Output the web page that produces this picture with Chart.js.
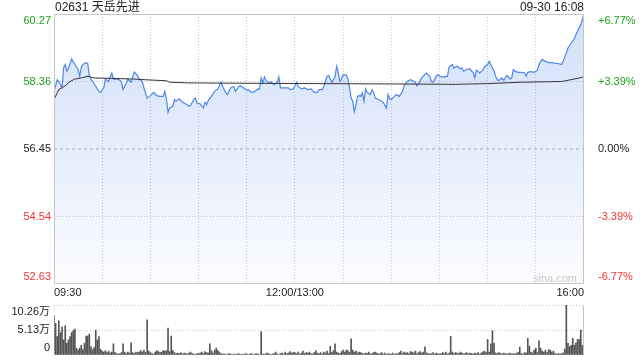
<!DOCTYPE html>
<html>
<head>
<meta charset="utf-8">
<title>02631 天岳先进</title>
<script src="https://cdn.jsdelivr.net/npm/chart.js@4.4.1/dist/chart.umd.min.js"></script>
<style>
    body { margin: 0; background: #fff; }
    #wrap { position: relative; width: 640px; height: 360px; overflow: hidden; font-family: "Liberation Sans", "Noto Sans CJK SC", sans-serif; color: #222; }
    #priceChart { position: absolute; left: 0; top: 0; }
    #volChart { position: absolute; left: 0; top: 295px; }
    #title { position: absolute; left: 55px; top: 0; font-size: 12px; line-height: 15px; }
    #stamp { position: absolute; right: 56px; top: 0; font-size: 12px; line-height: 15px; }
    #mark { position: absolute; left: 533px; top: 272px; font-size: 11px; line-height: 13px; color: #c8c8c8; }
</style>
</head>
<body>
<div id="wrap">
    <canvas id="priceChart" width="640" height="300"></canvas>
    <canvas id="volChart" width="640" height="65"></canvas>
    <div id="title">02631 天岳先进</div>
    <div id="stamp">09-30 16:08</div>
    <div id="mark">sina.com</div>
</div>
<script>
// x axis = trading minutes after 09:30 (lunch break squeezed out)
const timeLabelMinutes = [0, 150, 330];
const timeLabels = ["09:30", "12:00/13:00", "16:00"];
const gridMinutes = [0, 30, 60, 90, 120, 150, 180, 210, 240, 270, 300, 330];

const prevClose = 56.45;
const priceTicks = [52.63, 54.54, 56.45, 58.36, 60.27];
const priceTickLabels = ["52.63", "54.54", "56.45", "58.36", "60.27"];
const pctTickLabels = ["-6.77%", "-3.39%", "0.00%", "+3.39%", "+6.77%"];

const priceMinutes = [
    0, 2, 3, 5, 6, 7, 8, 9, 11, 13,
    15, 16, 17, 18, 20, 21, 22, 24, 26, 28,
    29, 31, 32, 34, 36, 37, 40, 42, 43, 45,
    46, 48, 49, 50, 52, 53, 55, 56, 58, 60,
    62, 64, 66, 68, 69, 70, 71, 72, 74, 75,
    76, 78, 80, 83, 84, 85, 87, 88, 89, 91,
    93, 94, 95, 96, 98, 100, 102, 104, 105, 107,
    108, 110, 112, 113, 115, 116, 118, 120, 121, 123,
    125, 127, 128, 129, 130, 131, 132, 134, 135, 137,
    139, 140, 141, 146, 147, 149, 151, 152, 154, 156,
    158, 160, 162, 164, 165, 167, 168, 170, 171, 172,
    173, 175, 176, 177, 178, 179, 180, 182, 183, 184,
    185, 186, 187, 188, 189, 190, 191, 192, 193, 194,
    195, 197, 198, 199, 200, 202, 204, 205, 207, 208,
    209, 210, 212, 213, 215, 217, 218, 220, 222, 223,
    225, 226, 227, 229, 231, 232, 234, 235, 236, 238,
    239, 241, 243, 245, 246, 248, 249, 251, 253, 254,
    255, 257, 259, 260, 261, 262, 263, 264, 265, 267,
    268, 270, 271, 272, 274, 275, 276, 277, 279, 280,
    281, 282, 284, 285, 286, 287, 289, 291, 293, 294,
    295, 297, 299, 301, 302, 303, 304, 306, 307, 309,
    310, 312, 314, 316, 317, 319, 320, 322, 324, 325,
    327, 328, 329, 330
];
const prices = [
    58.08, 58.41, 58.36, 58.19, 58.75, 58.84, 58.65, 58.74, 59.00, 58.84,
    58.70, 58.51, 58.77, 58.84, 58.89, 58.87, 58.51, 58.36, 58.22, 58.08,
    58.05, 58.18, 58.43, 58.36, 58.60, 58.43, 58.43, 58.36, 58.13, 58.32,
    58.43, 58.34, 58.49, 58.63, 58.53, 58.43, 58.36, 58.18, 57.89, 57.96,
    58.05, 57.96, 57.94, 57.94, 58.08, 57.87, 57.49, 57.61, 57.66, 57.85,
    57.80, 57.87, 57.77, 57.70, 57.66, 57.68, 57.85, 57.89, 57.75, 57.73,
    57.61, 57.77, 57.70, 57.82, 57.94, 58.08, 58.15, 58.34, 58.22, 58.04,
    57.99, 58.18, 58.22, 58.08, 58.22, 58.24, 58.18, 58.11, 58.13, 58.05,
    58.08, 58.15, 58.15, 58.46, 58.32, 58.49, 58.39, 58.32, 58.36, 58.27,
    58.34, 58.49, 58.18, 58.18, 58.13, 58.15, 58.34, 58.22, 58.15, 58.18,
    58.13, 58.15, 58.05, 58.05, 58.13, 58.13, 58.22, 58.51, 58.53, 58.43,
    58.34, 58.49, 58.79, 58.60, 58.36, 58.43, 58.55, 58.55, 58.43, 58.18,
    57.89, 57.80, 57.51, 57.70, 57.94, 57.96, 57.94, 58.04, 57.80, 58.15,
    58.05, 57.99, 58.13, 58.05, 57.89, 57.85, 57.80, 57.77, 57.61, 57.99,
    57.87, 57.85, 57.94, 57.99, 57.94, 58.08, 58.24, 58.36, 58.41, 58.39,
    58.34, 58.24, 58.30, 58.46, 58.57, 58.60, 58.51, 58.36, 58.34, 58.51,
    58.55, 58.49, 58.49, 58.51, 58.77, 58.84, 58.74, 58.79, 58.72, 58.74,
    58.65, 58.70, 58.72, 58.65, 58.62, 58.46, 58.68, 58.65, 58.60, 58.68,
    58.77, 58.84, 58.93, 58.84, 58.65, 58.51, 58.41, 58.39, 58.46, 58.39,
    58.46, 58.53, 58.43, 58.46, 58.70, 58.65, 58.62, 58.62, 58.60, 58.51,
    58.62, 58.64, 58.62, 58.68, 58.84, 58.93, 58.98, 58.93, 58.91, 58.89,
    58.90, 58.87, 58.87, 58.84, 58.93, 59.17, 59.31, 59.45, 59.57, 59.69,
    59.88, 59.97, 60.11, 60.25
];

// average price line
const avgMinutes = [0, 3, 7, 10, 13, 17, 21, 25, 35, 49, 57, 70, 72, 84, 122, 165, 215, 250, 270, 291, 316, 324, 330];
const avgPrices = [57.85, 58.13, 58.24, 58.36, 58.43, 58.46, 58.51, 58.46, 58.45, 58.43, 58.41, 58.38, 58.34, 58.32, 58.31, 58.30, 58.29, 58.28, 58.30, 58.34, 58.36, 58.43, 58.49];

const volTicks = [0, 5.13, 10.26];
const volTickLabels = ["0", "5.13万", "10.26万"];
// volume per minute, unit: 万
const volumes = [
    8.0, 6.5, 3.8, 7.0, 4.6, 5.8, 3.1, 6.0, 2.4, 3.1,
    3.8, 4.6, 5.0, 5.3, 1.4, 1.0, 1.4, 2.0, 1.1, 2.4,
    3.9, 3.9, 4.3, 1.7, 1.1, 1.5, 5.1, 3.1, 3.8, 1.2,
    0.8, 0.6, 0.9, 0.5, 0.8, 0.4, 0.6, 2.3, 0.5, 0.3,
    0.2, 0.3, 0.5, 2.3, 0.6, 0.3, 0.6, 0.4, 2.5, 0.5,
    0.3, 0.6, 0.5, 0.6, 0.9, 0.6, 1.0, 0.5, 7.2, 0.8,
    0.5, 0.3, 0.2, 0.6, 0.9, 0.7, 0.5, 0.6, 0.9, 0.8,
    0.9, 5.5, 0.7, 3.9, 0.9, 0.5, 0.3, 0.4, 0.3, 0.5,
    0.2, 0.4, 0.3, 0.2, 0.4, 0.6, 0.3, 0.2, 0.1, 0.3,
    0.3, 0.4, 0.6, 0.3, 0.7, 0.5, 0.4, 2.3, 0.9, 0.4,
    1.0, 1.4, 0.9, 0.6, 0.3, 0.2, 0.2, 0.1, 0.2, 0.3,
    0.2, 0.1, 0.2, 0.1, 0.2, 0.3, 0.1, 0.2, 0.1, 0.3,
    0.2, 0.1, 0.2, 0.3, 0.1, 0.2, 0.3, 0.2, 0.1, 4.8,
    0.2, 0.1, 0.3, 0.4, 0.2, 0.1, 0.2, 0.3, 0.6, 0.2,
    0.1, 0.3, 0.4, 0.2, 0.6, 0.3, 0.4, 0.7, 0.4, 0.5,
    0.5, 0.3, 0.6, 0.2, 0.4, 0.8, 0.3, 0.5, 0.4, 0.6,
    0.3, 0.2, 0.5, 0.9, 0.4, 0.3, 0.5, 0.2, 0.6, 0.4,
    0.8, 0.3, 1.8, 0.5, 0.9, 2.3, 0.6, 0.4, 0.3, 0.7,
    1.0, 0.6, 1.0, 0.9, 0.5, 3.3, 1.0, 0.6, 0.8, 0.4,
    0.6, 0.5, 0.3, 0.2, 0.4, 0.3, 0.6, 0.2, 0.3, 0.5,
    0.6, 0.4, 0.2, 0.3, 0.5, 0.2, 0.4, 0.1, 0.3, 0.2,
    0.2, 0.4, 0.1, 0.3, 0.2, 0.5, 0.8, 0.3, 0.6, 0.4,
    0.5, 0.3, 0.7, 0.6, 0.4, 0.8, 0.3, 0.5, 0.7, 0.4,
    0.6, 1.7, 0.4, 0.3, 0.2, 0.3, 0.5, 0.2, 0.4, 0.3,
    0.2, 0.3, 0.5, 0.3, 0.6, 0.2, 0.4, 3.8, 0.6, 0.3,
    0.5, 0.4, 0.3, 0.6, 0.4, 0.2, 0.3, 0.5, 0.2, 0.4,
    0.3, 0.2, 0.4, 0.3, 0.5, 0.2, 0.4, 0.6, 0.8, 0.5,
    3.2, 0.6, 2.3, 5.0, 2.4, 0.4, 0.3, 0.5, 0.3, 0.2,
    0.4, 0.3, 0.2, 0.3, 0.4, 0.2, 0.3, 0.2, 0.4, 0.5,
    1.6, 0.3, 0.2, 0.5, 0.4, 3.4, 1.8, 0.6, 0.4, 1.0,
    1.4, 0.5, 2.9, 1.4, 0.8, 0.6, 1.0, 0.5, 1.1, 1.0,
    0.6, 0.8, 0.3, 0.2, 0.3, 0.2, 0.3, 0.4, 1.2, 10.26,
    2.4, 1.7, 2.0, 3.4, 2.0, 2.5, 3.2, 3.2, 5.1, 2.0,
    1.8
];

const FONT = { family: '"Liberation Sans", "Noto Sans CJK SC", sans-serif', size: 11 };
const UP = "#1a9f1a";
const DOWN = "#f23333";
const FLAT = "#222";
const GRID = "#c8c8c8";
const NONE = "rgba(0,0,0,0)";

function tickColor(ctx) {
    const v = ctx.tick ? ctx.tick.value : prevClose;
    if (v > prevClose + 0.001) return UP;
    if (v < prevClose - 0.001) return DOWN;
    return FLAT;
}

// top/bottom labels sit inside the plot, like the original
function edgeLabel(label, index, count) {
    if (index === 0) return [label, ""];
    if (index === count - 1) return ["", label];
    return label;
}

function fixedWidth(w) {
    return function (scale) {
        scale.width = w;
        scale.paddingTop = 0;
        scale.paddingBottom = 0;
    };
}

function useTicks(values) {
    return function (scale) {
        scale.ticks = values.map(function (v) { return { value: v }; });
    };
}

function gradientFill(context) {
    const chart = context.chart;
    const area = chart.chartArea;
    if (!area) return null;
    const g = chart.ctx.createLinearGradient(0, area.top, 0, area.bottom);
    g.addColorStop(0, "rgba(77,134,232,0.26)");
    g.addColorStop(1, "rgba(77,134,232,0.02)");
    return g;
}

const framePlugin = {
    id: "frame",
    afterDatasetsDraw(chart, args, opts) {
        const a = chart.chartArea;
        const ctx = chart.ctx;
        const l = Math.round(a.left) + 0.5;
        const r = Math.round(a.right) - 0.5;
        const t = Math.round(a.top) + 0.5;
        const b = Math.round(a.bottom) - 0.5;
        ctx.save();
        ctx.lineWidth = 1;
        ctx.strokeStyle = opts.color;
        (opts.sides || []).forEach(function (s) {
            ctx.setLineDash(s.dash || []);
            ctx.beginPath();
            if (s.side === "top") { ctx.moveTo(l, t); ctx.lineTo(r, t); }
            if (s.side === "bottom") { ctx.moveTo(l, b); ctx.lineTo(r, b); }
            if (s.side === "left") { ctx.moveTo(l, t); ctx.lineTo(l, b); }
            if (s.side === "right") { ctx.moveTo(r, t); ctx.lineTo(r, b); }
            ctx.stroke();
        });
        ctx.restore();
    }
};

new Chart(document.getElementById("priceChart"), {
    type: "line",
    data: {
        datasets: [
            {
                // previous close
                data: [{ x: 0, y: prevClose }, { x: 330, y: prevClose }],
                borderColor: "#aaa",
                borderWidth: 1,
                borderDash: [3, 3],
                pointRadius: 0,
                fill: false,
                order: 0,
            },
            {
                label: "均价",
                data: avgMinutes.map(function (m, i) { return { x: m, y: avgPrices[i] }; }),
                borderColor: "#333",
                borderWidth: 1,
                pointRadius: 0,
                fill: false,
                order: 1,
            },
            {
                label: "价格",
                data: priceMinutes.map(function (m, i) { return { x: m, y: prices[i] }; }),
                borderColor: "#4d86e8",
                borderWidth: 1.2,
                pointRadius: 0,
                fill: "start",
                backgroundColor: gradientFill,
                order: 2,
            },
        ],
    },
    plugins: [framePlugin],
    options: {
        responsive: false,
        animation: false,
        devicePixelRatio: 1,
        layout: { padding: { top: 14, left: 0, right: 0, bottom: 0 } },
        plugins: {
            legend: { display: false },
            tooltip: { enabled: false },
            frame: {
                color: "#c4c4c4",
                sides: [{ side: "top" }, { side: "right" }, { side: "bottom" }, { side: "left" }],
            },
        },
        scales: {
            x: {
                type: "linear",
                min: 0,
                max: 330,
                afterBuildTicks: useTicks(gridMinutes),
                afterFit: function (scale) {
                    scale.height = 16;
                    scale.paddingLeft = 0;
                    scale.paddingRight = 0;
                },
                grid: {
                    drawTicks: false,
                    color: function (ctx) {
                        return ctx.index === 0 || ctx.index === gridMinutes.length - 1 ? NONE : GRID;
                    },
                },
                border: { display: false, dash: [1, 2] },
                ticks: {
                    autoSkip: false,
                    maxRotation: 0,
                    align: "inner",
                    padding: 2,
                    font: FONT,
                    color: FLAT,
                    callback: function (v) {
                        const k = timeLabelMinutes.indexOf(v);
                        return k >= 0 ? timeLabels[k] : "";
                    },
                },
            },
            y: {
                type: "linear",
                position: "left",
                min: priceTicks[0],
                max: priceTicks[priceTicks.length - 1],
                afterBuildTicks: useTicks(priceTicks),
                afterFit: fixedWidth(54),
                grid: {
                    drawTicks: false,
                    color: function (ctx) {
                        const i = ctx.index;
                        if (i === 0 || i === priceTicks.length - 1 || priceTicks[i] === prevClose) return NONE;
                        return GRID;
                    },
                },
                border: { display: false, dash: [1, 2] },
                ticks: {
                    autoSkip: false,
                    padding: 3,
                    font: FONT,
                    color: tickColor,
                    callback: function (v, i) { return edgeLabel(priceTickLabels[i], i, priceTicks.length); },
                },
            },
            y2: {
                type: "linear",
                position: "right",
                min: priceTicks[0],
                max: priceTicks[priceTicks.length - 1],
                afterBuildTicks: useTicks(priceTicks),
                afterFit: fixedWidth(56),
                grid: { display: false },
                border: { display: false },
                ticks: {
                    autoSkip: false,
                    padding: 6,
                    font: FONT,
                    color: tickColor,
                    callback: function (v, i) { return edgeLabel(pctTickLabels[i], i, priceTicks.length); },
                },
            },
        },
    },
});

new Chart(document.getElementById("volChart"), {
    type: "bar",
    data: {
        datasets: [
            {
                label: "成交量",
                data: volumes.map(function (v, i) { return { x: i, y: v }; }),
                backgroundColor: "#555",
                borderWidth: 0,
                barThickness: 1,
            },
        ],
    },
    plugins: [framePlugin],
    options: {
        responsive: false,
        animation: false,
        devicePixelRatio: 1,
        layout: { padding: { top: 10, right: 56, bottom: 5, left: 0 } },
        plugins: {
            legend: { display: false },
            tooltip: { enabled: false },
            frame: {
                color: "#c4c4c4",
                sides: [{ side: "right" }, { side: "left", dash: [1, 2] }],
            },
        },
        scales: {
            x: { type: "linear", min: 0, max: 330, offset: false, display: false },
            y: {
                min: volTicks[0],
                max: volTicks[volTicks.length - 1],
                afterBuildTicks: useTicks(volTicks),
                afterFit: fixedWidth(54),
                grid: {
                    drawTicks: false,
                    color: function (ctx) { return ctx.index === 0 ? NONE : GRID; },
                },
                border: { display: false, dash: [1, 2] },
                ticks: {
                    autoSkip: false,
                    padding: 4,
                    font: FONT,
                    color: FLAT,
                    callback: function (v, i) { return edgeLabel(volTickLabels[i], i, volTicks.length); },
                },
            },
        },
    },
});
</script>
</body>
</html>
